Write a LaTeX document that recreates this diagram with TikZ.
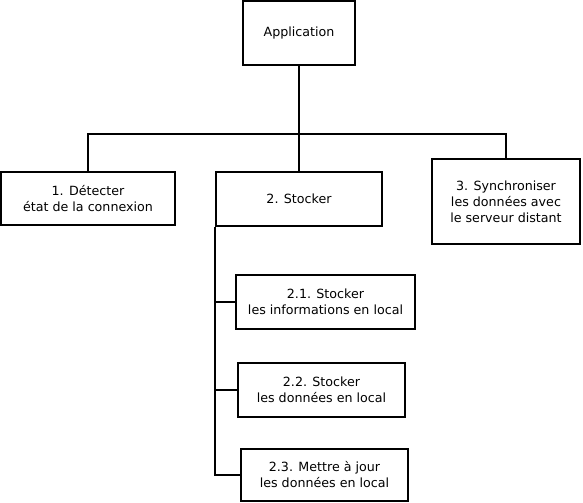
\documentclass[tikz,border=0pt]{standalone}
\usepackage{fontspec}
\setmainfont{DejaVu Sans}
\begin{document}
\begin{tikzpicture}[x=0.75pt,y=-0.75pt,
  box/.style={draw,line width=1.5pt,align=center,inner sep=0pt,
    font=\fontsize{9.5}{12}\selectfont},
  conn/.style={line width=1.5pt},
  stem/.style={line width=2.2pt}]
\useasboundingbox (0,0) rectangle (583,503);
\node[box,minimum width=112*0.75pt,minimum height=64*0.75pt] (app) at (299,33) {Application};
\node[box,minimum width=174*0.75pt,minimum height=53*0.75pt] (b1) at (88,198.5) {1. Détecter\\état de la connexion};
\node[box,minimum width=166*0.75pt,minimum height=54*0.75pt] (b2) at (299,199) {2. Stocker};
\node[box,minimum width=148*0.75pt,minimum height=85*0.75pt] (b3) at (506,201.5) {3. Synchroniser\\les données avec\\le serveur distant};
\node[box,minimum width=179*0.75pt,minimum height=53*0.75pt] (b21) at (325.5,302) {2.1. Stocker\\les informations en local};
\node[box,minimum width=167*0.75pt,minimum height=54*0.75pt] (b22) at (321.5,390) {2.2. Stocker\\les données en local};
\node[box,minimum width=167*0.75pt,minimum height=52*0.75pt] (b23) at (324.5,475) {2.3. Mettre à jour\\les données en local};
\coordinate (j) at (299,134);
\draw[stem] (app.south) -- (j);
\draw[conn] (j) -| (b1.north);
\draw[conn] (j) -| (b3.north);
\draw[conn] (j) -- (b2.north);
\draw[conn] (b2.south west) |- (b23.west);
\draw[conn] (b2.south west) |- (b21.west);
\draw[conn] (b2.south west) |- (b22.west);
\end{tikzpicture}
\end{document}
